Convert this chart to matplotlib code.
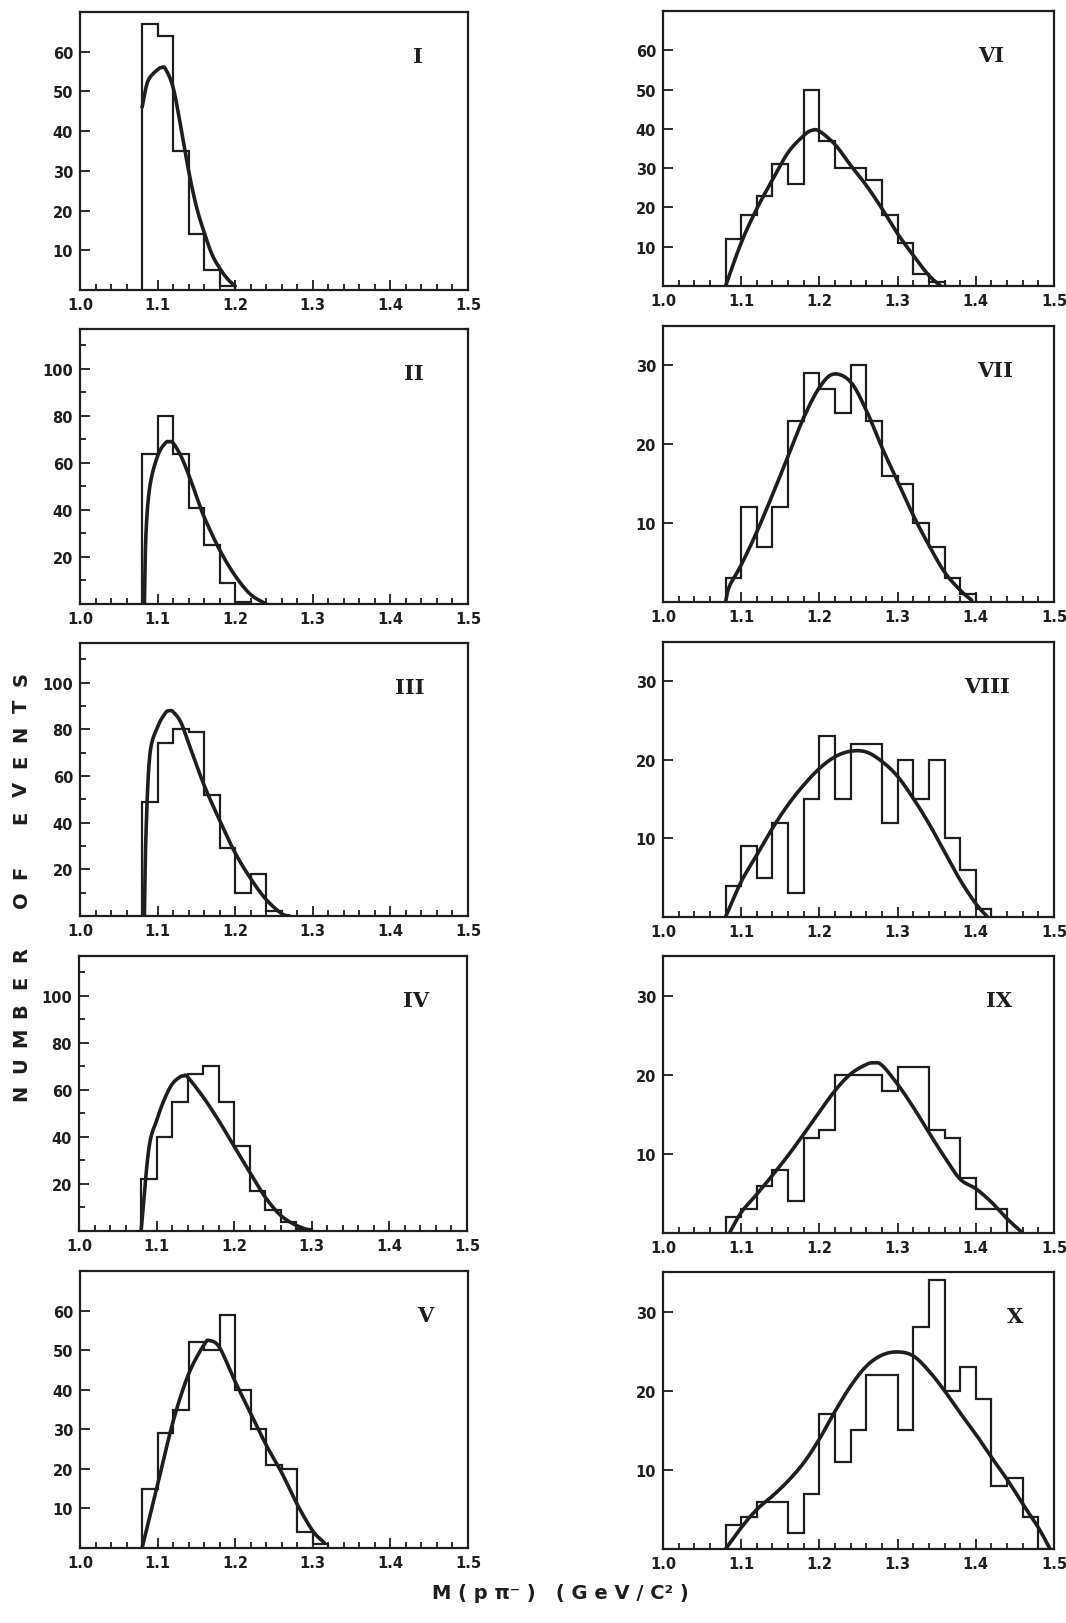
import numpy as np
import matplotlib
matplotlib.use("Agg")
import matplotlib.pyplot as plt
from matplotlib.ticker import FixedLocator, MultipleLocator

# histogram bins start at 1.08 GeV, width 0.02
BIN_LO = 1.08
BIN_W = 0.02

counts_I = [67, 64, 35, 14, 5, 1]
fit_x_I = [1.08, 1.085, 1.09, 1.10, 1.105, 1.11, 1.12, 1.13, 1.14, 1.15, 1.16, 1.17, 1.18, 1.19, 1.20]
fit_y_I = [46, 51, 53.5, 55.5, 56, 55.7, 51, 41, 30, 21, 14.5, 9, 5.5, 2.8, 1]

counts_II = [64, 80, 64, 41, 25, 9, 1]
fit_x_II = [1.083, 1.085, 1.09, 1.10, 1.11, 1.115, 1.12, 1.13, 1.14, 1.15, 1.16, 1.18, 1.20, 1.22, 1.24]
fit_y_II = [0, 30, 50, 63, 68.5, 69, 68.5, 63, 55, 46, 37, 23, 12, 4, 0]

counts_III = [49, 74, 80, 79, 52, 29, 10, 18, 2]
fit_x_III = [1.083, 1.085, 1.09, 1.10, 1.11, 1.115, 1.12, 1.13, 1.14, 1.16, 1.18, 1.20, 1.22, 1.24, 1.26, 1.27]
fit_y_III = [0, 35, 69, 81, 87, 88, 87.5, 83, 74, 56, 41, 27, 16, 7, 1, 0]

counts_IV = [22, 40, 55, 67, 70, 55, 36, 17, 9, 4, 1]
fit_x_IV = [1.08, 1.09, 1.10, 1.11, 1.12, 1.13, 1.135, 1.14, 1.16, 1.18, 1.20, 1.22, 1.24, 1.26, 1.28, 1.30]
fit_y_IV = [0, 35, 47, 56, 62.5, 65.5, 66, 65.5, 57, 47, 36, 25, 14.4, 6.6, 2.4, 0]

counts_V = [15, 29, 35, 52, 50, 59, 40, 30, 21, 20, 4, 1]
fit_x_V = [1.08, 1.10, 1.12, 1.14, 1.16, 1.167, 1.18, 1.20, 1.22, 1.24, 1.26, 1.28, 1.30, 1.315]
fit_y_V = [0, 16, 32, 44, 51.4, 52.4, 50.6, 42, 34, 26, 19, 11, 4.3, 1.3]

counts_VI = [12, 18, 23, 31, 26, 50, 37, 30, 30, 27, 18, 11, 3, 1]
fit_x_VI = [1.08, 1.10, 1.12, 1.14, 1.16, 1.18, 1.19, 1.20, 1.22, 1.24, 1.26, 1.28, 1.30, 1.32, 1.34, 1.355]
fit_y_VI = [0, 11, 19.7, 27, 34, 38.3, 39.6, 39.4, 36, 30.7, 25.6, 19.7, 13.3, 7.8, 2.7, 0]

counts_VII = [3, 12, 7, 12, 23, 29, 27, 24, 30, 23, 16, 15, 10, 7, 3, 1]
fit_x_VII = [1.08, 1.085, 1.10, 1.12, 1.14, 1.16, 1.18, 1.20, 1.218, 1.24, 1.26, 1.28, 1.30, 1.32, 1.34, 1.36, 1.38, 1.395]
fit_y_VII = [0, 2, 4.7, 8.9, 13.6, 18.5, 23.4, 27.2, 28.9, 27.9, 24.3, 19.6, 15.3, 11, 7.2, 3.8, 1.5, 0.2]

counts_VIII = [4, 9, 5, 12, 3, 15, 23, 15, 22, 22, 12, 20, 15, 20, 10, 6, 1]
fit_x_VIII = [1.08, 1.10, 1.12, 1.14, 1.16, 1.18, 1.20, 1.22, 1.24, 1.26, 1.28, 1.30, 1.32, 1.34, 1.36, 1.38, 1.40, 1.415]
fit_y_VIII = [0, 4.5, 7.9, 11.3, 14.3, 16.8, 18.9, 20.4, 21.1, 21, 19.8, 17.9, 15.1, 11.9, 8.3, 4.7, 1.7, 0]

counts_IX = [2, 3, 6, 8, 4, 12, 13, 20, 20, 20, 18, 21, 21, 13, 12, 7, 3, 3, 0]
fit_x_IX = [1.085, 1.10, 1.12, 1.14, 1.16, 1.18, 1.20, 1.22, 1.24, 1.26, 1.27, 1.28, 1.30, 1.32, 1.34, 1.36, 1.38, 1.40, 1.42, 1.44, 1.46]
fit_y_IX = [0, 2.6, 4.9, 7.3, 9.8, 12.5, 15.3, 18, 20.1, 21.3, 21.5, 21.2, 18.8, 15.9, 12.7, 9.6, 6.8, 5.6, 3.9, 1.8, 0]

counts_X = [3, 4, 6, 6, 2, 7, 17, 11, 15, 22, 22, 15, 28, 34, 20, 23, 19, 8, 9, 4, 0]
fit_x_X = [1.08, 1.10, 1.12, 1.14, 1.16, 1.18, 1.20, 1.22, 1.24, 1.26, 1.28, 1.30, 1.32, 1.34, 1.36, 1.38, 1.40, 1.42, 1.44, 1.46, 1.48, 1.495]
fit_y_X = [0, 2.7, 5, 6.7, 8.6, 10.9, 13.9, 17.4, 20.6, 23.1, 24.5, 24.9, 24.4, 22.5, 20, 17.2, 14.5, 11.6, 8.8, 5.7, 2.7, 0]

panel_names = ["I", "II", "III", "IV", "V", "VI", "VII", "VIII", "IX", "X"]
panel_counts = [counts_I, counts_II, counts_III, counts_IV, counts_V,
                counts_VI, counts_VII, counts_VIII, counts_IX, counts_X]
panel_fit_x = [fit_x_I, fit_x_II, fit_x_III, fit_x_IV, fit_x_V,
               fit_x_VI, fit_x_VII, fit_x_VIII, fit_x_IX, fit_x_X]
panel_fit_y = [fit_y_I, fit_y_II, fit_y_III, fit_y_IV, fit_y_V,
               fit_y_VI, fit_y_VII, fit_y_VIII, fit_y_IX, fit_y_X]
panel_ymax = [70, 117, 117, 117, 70, 70, 35, 35, 35, 35]
panel_yticks = [[10, 20, 30, 40, 50, 60], [20, 40, 60, 80, 100], [20, 40, 60, 80, 100],
                [20, 40, 60, 80, 100], [10, 20, 30, 40, 50, 60], [10, 20, 30, 40, 50, 60],
                [10, 20, 30], [10, 20, 30], [10, 20, 30], [10, 20, 30]]

W, H = 1066, 1624
# axes boxes in pixels: left, top, right, bottom
boxes = [(80, 13, 468, 291), (80, 330, 468, 605), (80, 644, 468, 917),
         (79, 957, 467, 1232), (80, 1272, 468, 1549),
         (663, 12, 1054, 287), (663, 327, 1054, 603), (663, 643, 1054, 918),
         (663, 957, 1054, 1234), (663, 1273, 1054, 1550)]
label_pos = [0.87, 0.86, 0.85, 0.87, 0.89, 0.84, 0.85, 0.83, 0.86, 0.9]

INK = "#1e1e1e"
plt.rcParams['font.family'] = ['DejaVu Sans']


def smooth(xs, ys, n=12):
    # Catmull-Rom pass so the fitted curve is drawn round rather than as a polygon
    x = np.asarray(xs, float)
    y = np.asarray(ys, float)
    px = np.concatenate([[2 * x[0] - x[1]], x, [2 * x[-1] - x[-2]]])
    py = np.concatenate([[2 * y[0] - y[1]], y, [2 * y[-1] - y[-2]]])
    t = np.linspace(0, 1, n, endpoint=False)[:, None]
    out_x, out_y = [], []
    for k in range(1, len(px) - 2):
        for arr, out in ((px, out_x), (py, out_y)):
            p0, p1, p2, p3 = arr[k - 1], arr[k], arr[k + 1], arr[k + 2]
            seg = 0.5 * ((2 * p1) + (-p0 + p2) * t + (2 * p0 - 5 * p1 + 4 * p2 - p3) * t ** 2
                         + (-p0 + 3 * p1 - 3 * p2 + p3) * t ** 3)
            out.extend(seg.ravel())
    out_x.append(x[-1])
    out_y.append(y[-1])
    return np.array(out_x), np.clip(np.array(out_y), 0, None)


fig = plt.figure(figsize=(W / 100, H / 100), dpi=100)

for i in range(10):
    l, t, r, b = boxes[i]
    ax = fig.add_axes([l / W, 1 - b / H, (r - l) / W, (b - t) / H])
    counts = panel_counts[i]
    edges = BIN_LO + BIN_W * np.arange(len(counts) + 1)
    ax.stairs(counts, edges, baseline=0, color=INK, lw=1.6)
    sx, sy = smooth(panel_fit_x[i], panel_fit_y[i])
    ax.plot(sx, sy, color=INK, lw=2.6, solid_joinstyle='round', solid_capstyle='round')
    ax.set_xlim(1.0, 1.5)
    ax.set_ylim(0, panel_ymax[i])
    ax.xaxis.set_major_locator(FixedLocator([1.0, 1.1, 1.2, 1.3, 1.4, 1.5]))
    ax.xaxis.set_minor_locator(MultipleLocator(0.02))
    ax.set_xticklabels(["1.0", "1.1", "1.2", "1.3", "1.4", "1.5"])
    ax.yaxis.set_major_locator(FixedLocator(panel_yticks[i]))
    if panel_ymax[i] > 100:
        ax.yaxis.set_minor_locator(MultipleLocator(10))
    ax.tick_params(which='both', direction='in', color=INK, labelcolor=INK,
                   labelsize=10.5, width=1.3)
    ax.tick_params(which='major', length=7, pad=5)
    ax.tick_params(which='minor', length=4)
    for lab in ax.get_xticklabels() + ax.get_yticklabels():
        lab.set_fontweight('bold')
    for sp in ax.spines.values():
        sp.set_linewidth(1.6)
        sp.set_color(INK)
    ax.text(label_pos[i], 0.84, panel_names[i], transform=ax.transAxes,
            ha='center', va='center', fontsize=15, fontweight='bold',
            family='DejaVu Serif', color=INK)

# vertical axis title, one letter at a time to get the wide typewriter spacing
ylabel = "NUMBER OF EVENTS"
ypos = np.linspace(1093, 679, len(ylabel))
for ch, yy in zip(ylabel, ypos):
    if ch != " ":
        fig.text(21 / W, 1 - yy / H, ch, rotation=90, ha='center', va='center',
                 fontsize=14, fontweight='bold', color=INK)

fig.text(560 / W, 1 - 1594 / H, "M ( p π⁻ )   ( G e V / C² )",
         ha='center', va='center', fontsize=14, fontweight='bold', color=INK)

fig.savefig("out.png", dpi=100, facecolor='white')
